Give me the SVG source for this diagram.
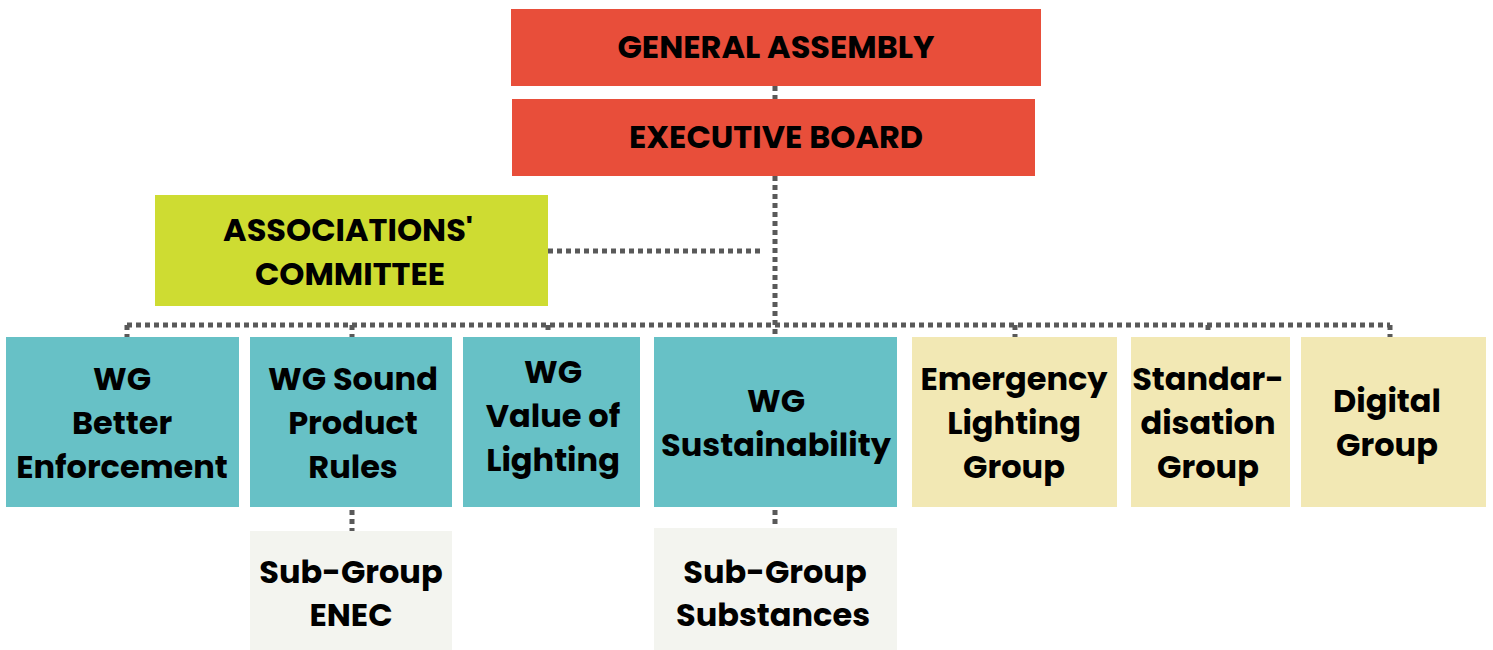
<svg xmlns="http://www.w3.org/2000/svg" width="1493" height="650" viewBox="0 0 1493 650">
<style>
.t{font-family:Poppins,Inter,"Liberation Sans",sans-serif;font-weight:700;font-size:32px;fill:#000;text-anchor:middle}
.red{fill:#E84E3A}.lime{fill:#CEDC32}.teal{fill:#67C1C6}.yel{fill:#F2E8B4}.gry{fill:#F3F4EF}
.c{fill:none;stroke:#595959;stroke-width:5;stroke-dasharray:5 4}
</style>
<rect width="1493" height="650" fill="#fff"/>
<g id="connectors">
<path class="c" d="M775 86V99"/>
<path class="c" d="M775 176V337"/>
<path class="c" d="M548 251H762"/>
<path class="c" d="M127 325H1390"/>
<path class="c" d="M127 325V337"/>
<path class="c" d="M352 325V337"/>
<path class="c" d="M548 325V331"/>
<path class="c" d="M1015 325V337"/>
<path class="c" d="M1208 325V334"/>
<path class="c" d="M1390 325V337"/>
<path class="c" d="M352 510V531"/>
<path class="c" d="M775 510V528"/>
</g>
<g id="general-assembly"><rect class="red" x="511" y="9" width="530" height="77"/><text class="t" x="776" y="58">GENERAL ASSEMBLY</text></g>
<g id="executive-board"><rect class="red" x="512" y="99" width="523" height="77"/><text class="t" x="776" y="148">EXECUTIVE BOARD</text></g>
<g id="associations-committee"><rect class="lime" x="155" y="195" width="393" height="111"/><text class="t" x="348" y="241">ASSOCIATIONS'</text><text class="t" x="350" y="285">COMMITTEE</text></g>
<g id="wg-better-enforcement"><rect class="teal" x="6" y="337" width="233" height="170"/><text class="t" x="122" y="390">WG</text><text class="t" x="122" y="434">Better</text><text class="t" x="122" y="478">Enforcement</text></g>
<g id="wg-sound-product-rules"><rect class="teal" x="250" y="337" width="202" height="170"/><text class="t" x="353" y="390">WG Sound</text><text class="t" x="353" y="434">Product</text><text class="t" x="353" y="478">Rules</text></g>
<g id="wg-value-of-lighting"><rect class="teal" x="463" y="337" width="177" height="170"/><text class="t" x="553" y="383">WG</text><text class="t" x="553" y="427">Value of</text><text class="t" x="553" y="471">Lighting</text></g>
<g id="wg-sustainability"><rect class="teal" x="654" y="337" width="243" height="170"/><text class="t" x="776" y="412">WG</text><text class="t" x="776" y="456">Sustainability</text></g>
<g id="emergency-lighting-group"><rect class="yel" x="912" y="337" width="205" height="170"/><text class="t" x="1014" y="390">Emergency</text><text class="t" x="1014" y="434">Lighting</text><text class="t" x="1014" y="478">Group</text></g>
<g id="standardisation-group"><rect class="yel" x="1131" y="337" width="159" height="170"/><text class="t" x="1208" y="390">Standar-</text><text class="t" x="1208" y="434">disation</text><text class="t" x="1208" y="478">Group</text></g>
<g id="digital-group"><rect class="yel" x="1301" y="337" width="185" height="170"/><text class="t" x="1387" y="412">Digital</text><text class="t" x="1387" y="456">Group</text></g>
<g id="sub-group-enec"><rect class="gry" x="250" y="531" width="202" height="119"/><text class="t" x="351" y="583">Sub-Group</text><text class="t" x="351" y="626">ENEC</text></g>
<g id="sub-group-substances"><rect class="gry" x="654" y="528" width="243" height="122"/><text class="t" x="775" y="583">Sub-Group</text><text class="t" x="773" y="626">Substances</text></g>
</svg>
